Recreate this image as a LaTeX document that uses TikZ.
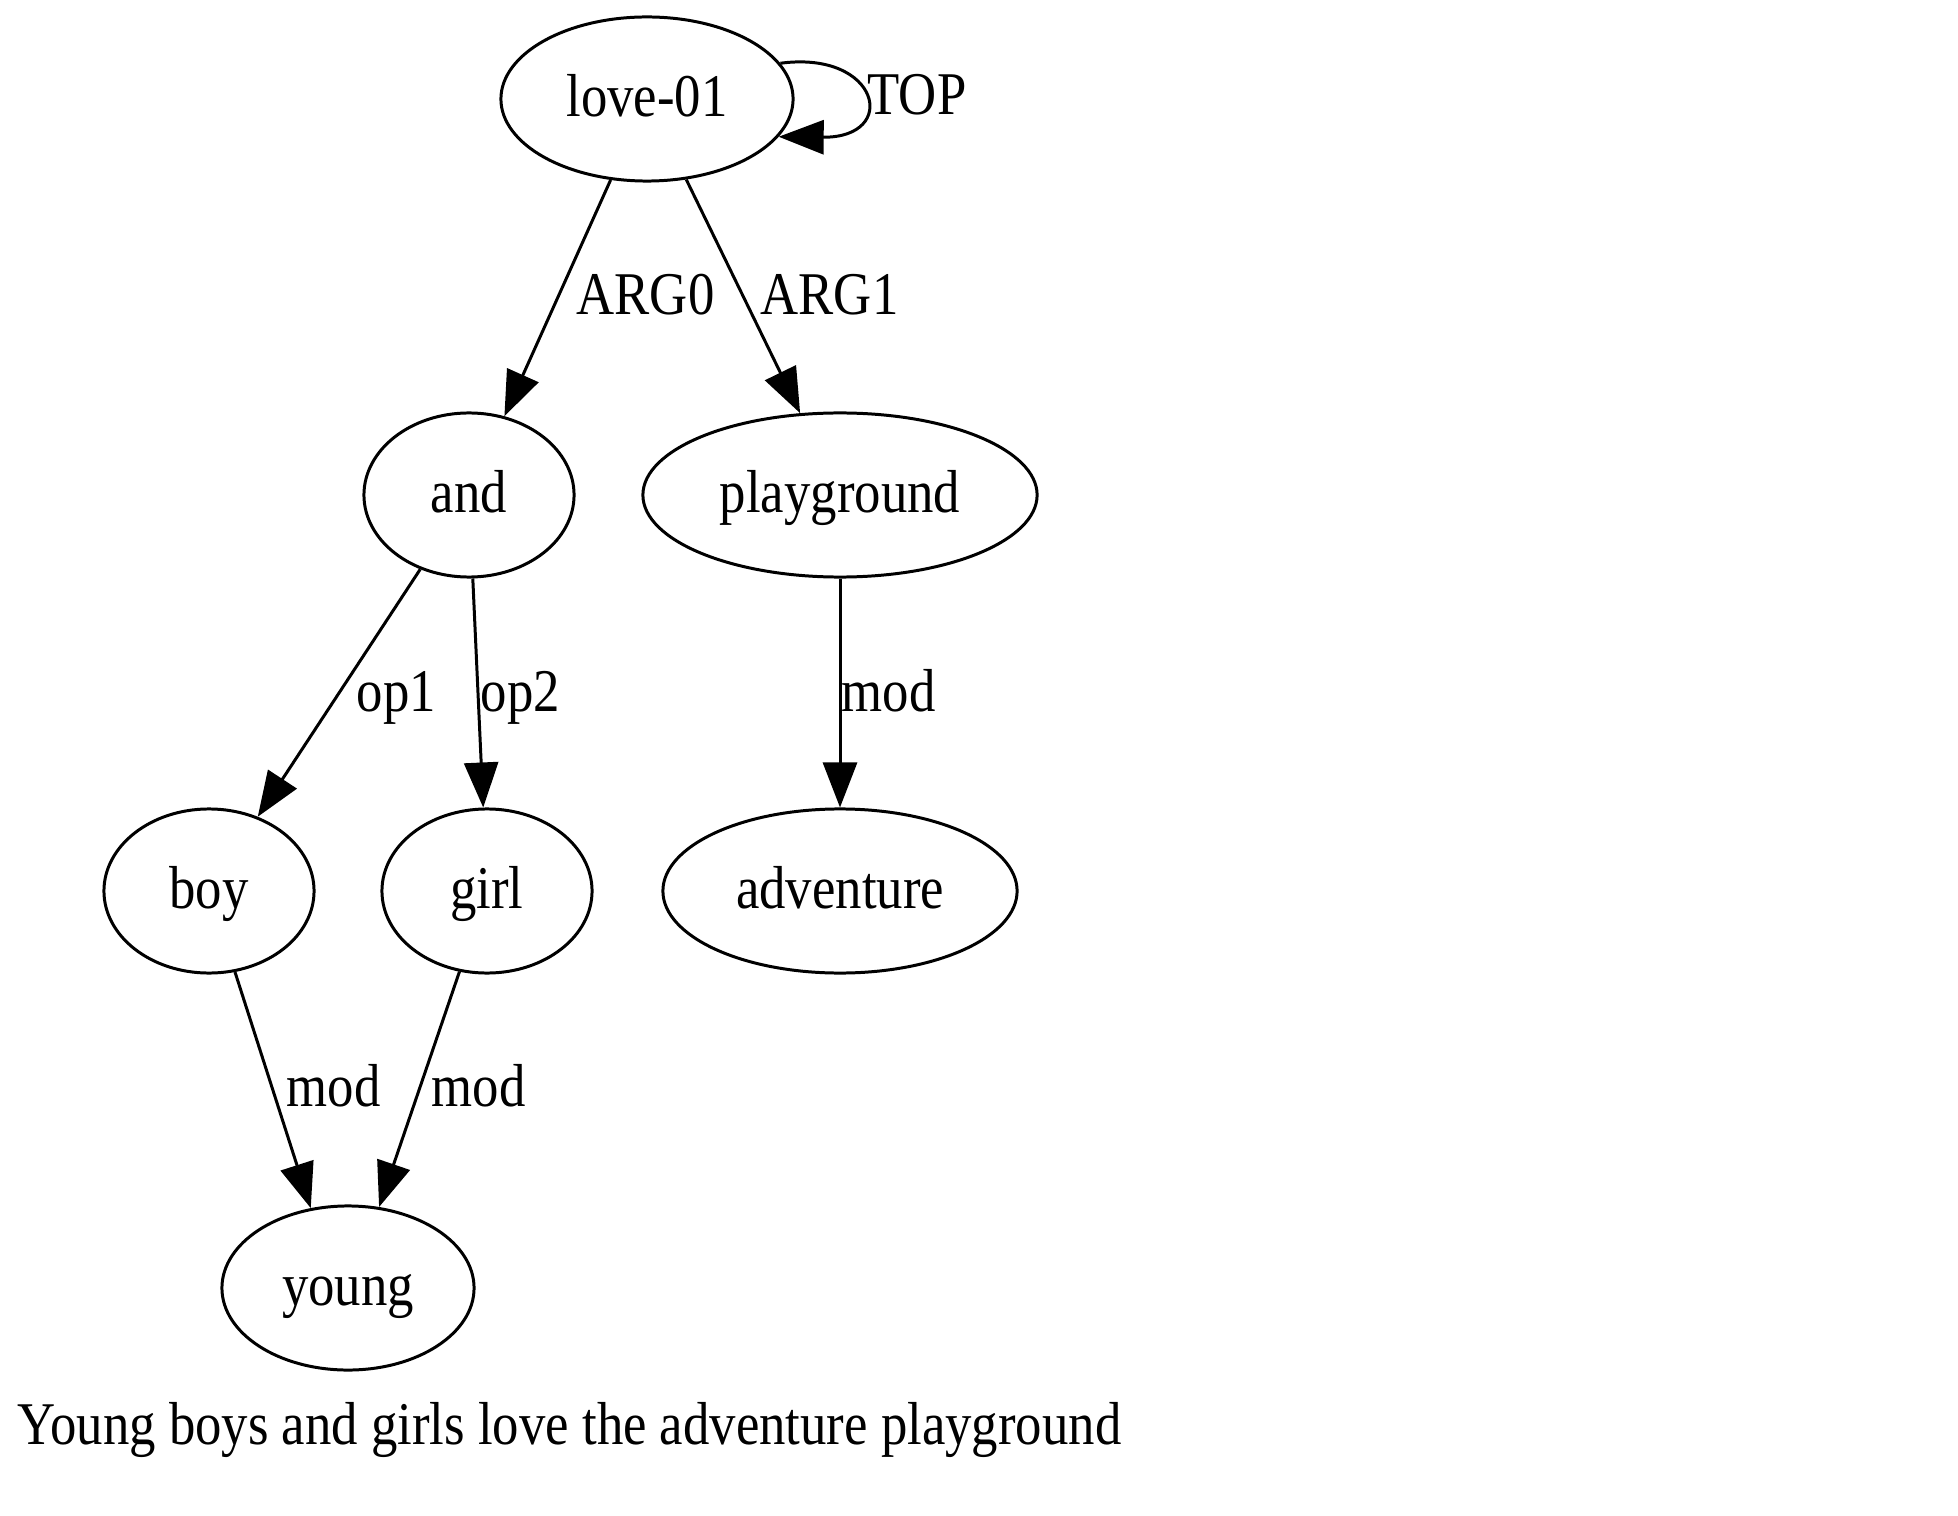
\documentclass[tikz,border=0pt]{standalone}
\usepackage{fontspec}
\usepackage{graphicx}
\setmainfont{Liberation Serif}
\usetikzlibrary{shapes.geometric,arrows.meta}
\newcommand{\vs}[1]{\scalebox{1}[1.15]{#1}}
\tikzset{
  amr/.style={draw, ellipse, line width=0.85pt, inner sep=0pt,
    minimum height=1.64cm, text height=0.50cm, text depth=0.15cm,
    font=\fontsize{15pt}{17pt}\selectfont},
  lbl/.style={inner sep=0pt, anchor=base west, font=\fontsize{15pt}{17pt}\selectfont},
  edge/.style={line width=0.85pt, -{Triangle[length=0.45cm,width=0.34cm]}}
}
\begin{document}
\begin{tikzpicture}[x=0.01cm,y=-0.01cm]
\fill[white] (0,0) rectangle (1958,1516);
\useasboundingbox (0,0) rectangle (1958,1516);
\node[amr, minimum width=2.92cm] (love) at (647,99) {\vs{love-01}};
\node[amr, minimum width=2.10cm] (and) at (469,495) {\vs{and}};
\node[amr, minimum width=3.94cm] (pg) at (840,495) {\vs{playground}};
\node[amr, minimum width=2.10cm] (boy) at (209,891) {\vs{boy}};
\node[amr, minimum width=2.10cm] (girl) at (487,891) {\vs{girl}};
\node[amr, minimum width=3.54cm] (adv) at (840,891) {\vs{adventure}};
\node[amr, minimum width=2.52cm] (young) at (348,1288) {\vs{young}};

\draw[edge] (love.15) .. controls (880,50) and (900,138) .. (love.-16);
\draw[edge] (love) -- (and);
\draw[edge] (love) -- (pg);
\draw[edge] (and) -- (boy);
\draw[edge] (and) -- (girl);
\draw[edge] (pg) -- (adv);
\draw[edge] (boy) -- (young.115);
\draw[edge] (girl) -- (young.69);

\node[lbl] (ltop) at (867,115) {\vs{TOP}};
\node[lbl] (larg0) at (576,315) {\vs{ARG0}};
\node[lbl] (larg1) at (760,315) {\vs{ARG1}};
\node[lbl] (lop1) at (356,711) {\vs{op1}};
\node[lbl] (lop2) at (480,711) {\vs{op2}};
\node[lbl] (lmod1) at (841,711) {\vs{mod}};
\node[lbl] (lmod2) at (286,1106) {\vs{mod}};
\node[lbl] (lmod3) at (431,1106) {\vs{mod}};
\node[lbl] (caption) at (17,1444) {\vs{Young boys and girls love the adventure playground}};
\end{tikzpicture}
\end{document}
